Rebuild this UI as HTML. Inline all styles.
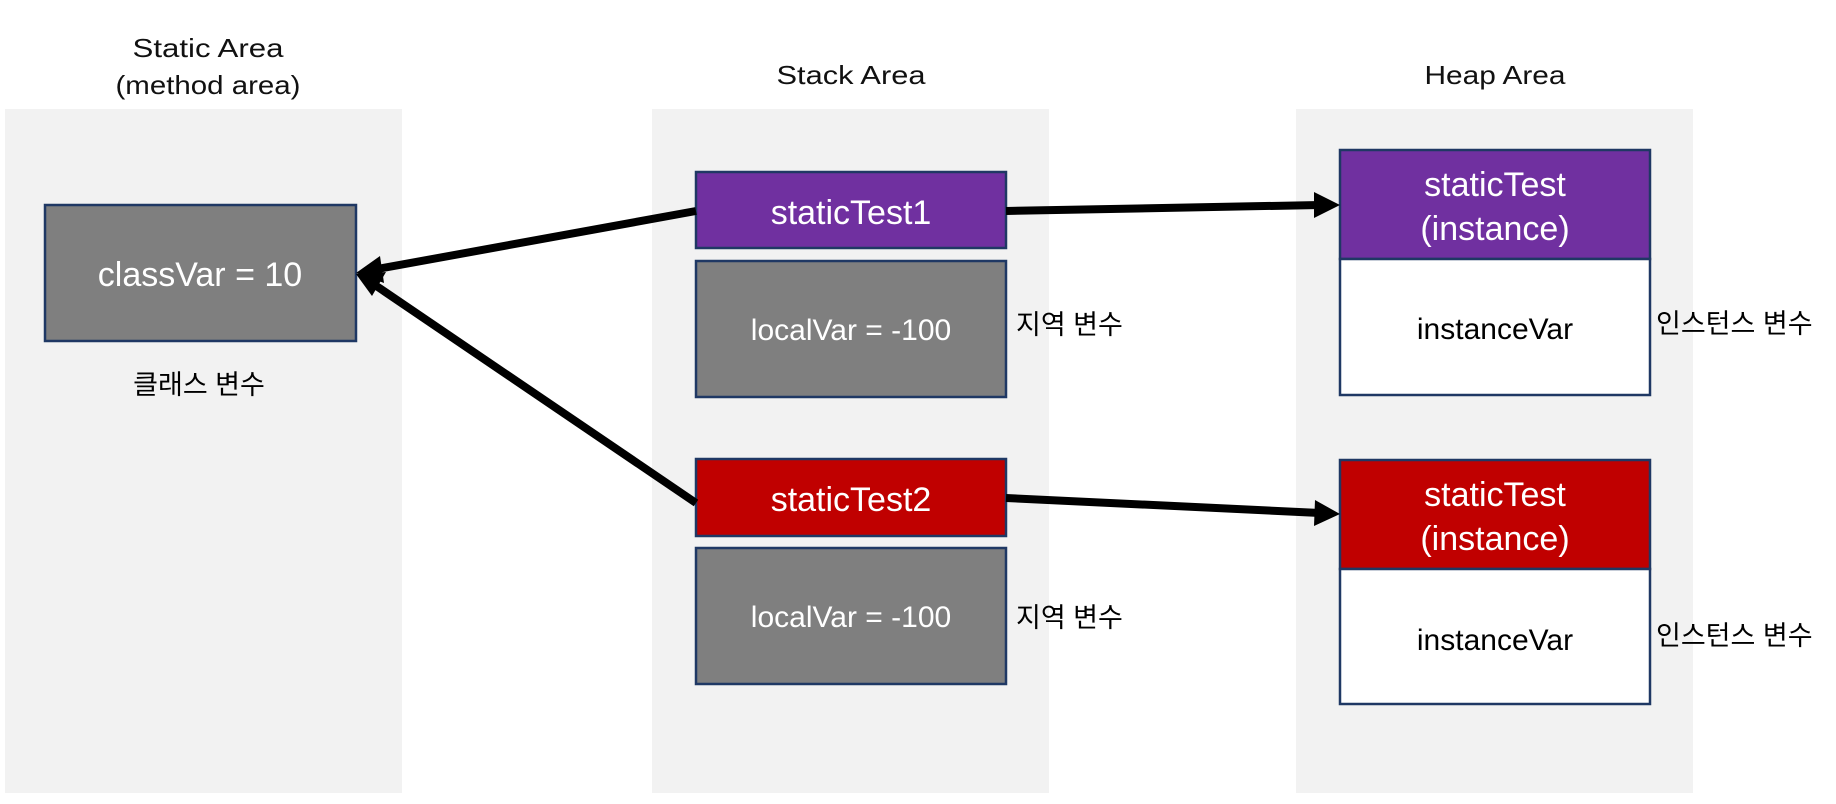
<!DOCTYPE html>
<html><head><meta charset="utf-8"><style>
html,body{margin:0;padding:0;background:#fff;}
svg{display:block;}
text{font-family:"Liberation Sans","Noto Sans CJK KR",sans-serif;}
</style></head><body>
<svg width="1836" height="804" viewBox="0 0 1836 804" xmlns="http://www.w3.org/2000/svg">
<rect width="1836" height="804" fill="#fff"/>
<rect x="5" y="109" width="397" height="684" fill="#f2f2f2"/>
<rect x="652" y="109" width="397" height="684" fill="#f2f2f2"/>
<rect x="1296" y="109" width="397" height="684" fill="#f2f2f2"/>
<g font-size="26" fill="#111" text-anchor="middle" lengthAdjust="spacingAndGlyphs">
<text x="208" y="57" textLength="151" lengthAdjust="spacingAndGlyphs">Static Area</text>
<text x="208" y="94" textLength="185" lengthAdjust="spacingAndGlyphs">(method area)</text>
<text x="851" y="84" textLength="149" lengthAdjust="spacingAndGlyphs">Stack Area</text>
<text x="1495" y="84" textLength="141" lengthAdjust="spacingAndGlyphs">Heap Area</text>
</g>
<g stroke="#1f3864" stroke-width="2.5">
<rect x="45" y="205" width="311" height="136" fill="#7f7f7f"/>
<rect x="696" y="172" width="310" height="76" fill="#7030a0"/>
<rect x="696" y="261" width="310" height="136" fill="#7f7f7f"/>
<rect x="696" y="459" width="310" height="77" fill="#c00000"/>
<rect x="696" y="548" width="310" height="136" fill="#7f7f7f"/>
<rect x="1340" y="150" width="310" height="109" fill="#7030a0"/>
<rect x="1340" y="259" width="310" height="136" fill="#fff"/>
<rect x="1340" y="460" width="310" height="109" fill="#c00000"/>
<rect x="1340" y="569" width="310" height="135" fill="#fff"/>
</g>
<g text-anchor="middle" fill="#fff">
<text x="200" y="286" font-size="34">classVar = 10</text>
<text x="851" y="224" font-size="34">staticTest1</text>
<text x="851" y="340" font-size="30">localVar = -100</text>
<text x="851" y="511" font-size="34">staticTest2</text>
<text x="851" y="627" font-size="30">localVar = -100</text>
<text x="1495" y="196" font-size="34">staticTest</text>
<text x="1495" y="240" font-size="34">(instance)</text>
<text x="1495" y="506" font-size="34">staticTest</text>
<text x="1495" y="550" font-size="34">(instance)</text>
</g>
<g fill="#000" font-size="30" text-anchor="middle">
<text x="1495" y="339">instanceVar</text>
<text x="1495" y="650">instanceVar</text>
</g>
<g fill="#000" font-size="27">
<text x="199" y="394" text-anchor="middle">클래스 변수</text>
<text x="1016" y="334">지역 변수</text>
<text x="1016" y="627">지역 변수</text>
<text x="1656" y="333">인스턴스 변수</text>
<text x="1656" y="645">인스턴스 변수</text>
</g>
<g stroke="#000" stroke-width="8" fill="none">
<line x1="696" y1="211" x2="372" y2="270"/>
<line x1="696" y1="503" x2="372" y2="283"/>
<line x1="1006" y1="211" x2="1320" y2="205"/>
<line x1="1006" y1="498" x2="1320" y2="513"/>
</g>
<g fill="#000">
<polygon points="356,273 380,256 384,283"/>
<polygon points="356,274 386,272 372,296"/>
<polygon points="1340,205 1314,192 1314,218"/>
<polygon points="1340,514 1315,500 1314,526"/>
</g>
</svg>
</body></html>
